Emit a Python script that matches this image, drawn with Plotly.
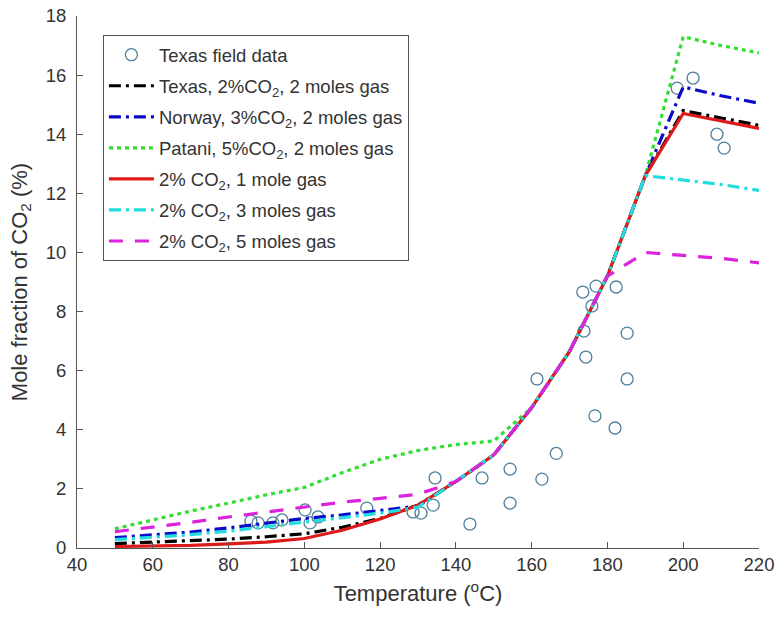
import plotly.graph_objects as go

# Texas field data
field_T = [85.9, 87.8, 91.7, 94.1, 100.2, 101.5, 103.6, 116.5, 128.7, 130.8, 134.0, 134.5,
           143.7, 146.9, 154.3, 154.3, 161.4, 162.7, 166.5, 173.5, 173.8, 174.3, 175.9,
           176.7, 177.0, 182.0, 182.3, 185.2, 185.2, 198.4, 202.6, 208.9, 210.8]
field_CO2 = [0.91, 0.85, 0.85, 0.95, 1.29, 0.85, 1.05, 1.35, 1.22, 1.18, 1.45, 2.37,
             0.81, 2.37, 2.67, 1.52, 5.72, 2.33, 3.2, 8.66, 7.34, 6.46, 8.19,
             4.47, 8.86, 4.06, 8.83, 7.27, 5.72, 15.56, 15.9, 14.0, 13.53]

# Model temperatures
temps = [50, 60, 70, 80, 90, 100, 110, 120, 130, 140, 150, 160, 170, 180, 190, 200, 210, 220]

texas_2co2_2mol = [0.15, 0.2, 0.25, 0.3, 0.38, 0.48, 0.7, 1.0, 1.45, 2.25, 3.15, 4.75, 6.65, 9.2, 12.6, 14.8, 14.55, 14.3]
norway_3co2_2mol = [0.35, 0.44, 0.54, 0.68, 0.85, 1.0, 1.12, 1.28, 1.42, 2.25, 3.15, 4.75, 6.65, 9.2, 12.6, 15.6, 15.3, 15.05]
patani_5co2_2mol = [0.65, 0.95, 1.25, 1.52, 1.8, 2.05, 2.55, 3.0, 3.3, 3.5, 3.62, 4.75, 6.65, 9.2, 12.6, 17.3, 17.0, 16.75]
co2_2_1mol = [0.05, 0.06, 0.09, 0.14, 0.2, 0.32, 0.6, 0.98, 1.45, 2.25, 3.15, 4.75, 6.65, 9.2, 12.6, 14.7, 14.45, 14.2]
co2_2_3mol = [0.28, 0.36, 0.45, 0.57, 0.72, 0.88, 1.02, 1.18, 1.38, 2.25, 3.15, 4.75, 6.65, 9.2, 12.6, 12.45, 12.3, 12.1]
co2_2_5mol = [0.55, 0.7, 0.87, 1.05, 1.22, 1.4, 1.55, 1.68, 1.82, 2.25, 3.15, 4.75, 6.65, 9.2, 10.0, 9.9, 9.8, 9.65]

x_ticks = [40, 60, 80, 100, 120, 140, 160, 180, 200, 220]
y_ticks = [0, 2, 4, 6, 8, 10, 12, 14, 16, 18]

fig = go.Figure()
fig.add_trace(go.Scatter(x=field_T, y=field_CO2, mode="markers", name="Texas field data",
                         legendgroup="g0",
                         marker=dict(symbol="circle-open", size=12, color="#4f7f9c",
                                     line=dict(width=1.3, color="#4f7f9c"))))

series = [
    ("Texas, 2%CO<sub>2</sub>, 2 moles gas", texas_2co2_2mol, "#000000", "12px,5px,3px,5px"),
    ("Norway, 3%CO<sub>2</sub>, 2 moles gas", norway_3co2_2mol, "#0a0ac8", "12px,5px,3px,5px"),
    ("Patani, 5%CO<sub>2</sub>, 2 moles gas", patani_5co2_2mol, "#33dd33", "4px,4px"),
    ("2% CO<sub>2</sub>, 1 mole gas", co2_2_1mol, "#dd1a1a", "solid"),
    ("2% CO<sub>2</sub>, 3 moles gas", co2_2_3mol, "#22dde0", "12px,5px,3px,5px"),
    ("2% CO<sub>2</sub>, 5 moles gas", co2_2_5mol, "#dd22dd", "14px,12px"),
]
for i, (name, vals, color, dash) in enumerate(series):
    fig.add_trace(go.Scatter(x=temps, y=vals, mode="lines", name=name,
                             legendgroup=f"g{i+1}",
                             line=dict(color=color, width=3.2, dash=dash)))

axis_common = dict(showline=True, linecolor="#555555", linewidth=1, ticks="inside",
                   ticklen=6, tickcolor="#555555", showgrid=False, zeroline=False,
                   automargin=False, ticklabeloverflow="allow",
                   tickfont=dict(family="Liberation Sans, Arial", size=18.5, color="#333333"))

fig.update_layout(
    width=775, height=624,
    margin=dict(l=77, r=16, t=16, b=76),
    paper_bgcolor="white", plot_bgcolor="white",
    font=dict(family="Liberation Sans, Arial", color="#333333"),
    xaxis=dict(range=[40, 220], tickvals=x_ticks,
               title=dict(text="Temperature (<sup>o</sup>C)", font=dict(size=22), standoff=11),
               **axis_common),
    yaxis=dict(range=[0, 18], tickvals=y_ticks, ticklabelstandoff=6,
               title=dict(text="Mole fraction of CO<sub>2</sub> (%)", font=dict(size=22), standoff=12),
               **axis_common),
    legend=dict(x=0.038, y=0.964, xanchor="left", yanchor="top",
                bgcolor="white", bordercolor="#555555", borderwidth=1,
                font=dict(size=18.5, color="#333333"), tracegroupgap=4,
                traceorder="grouped", itemwidth=45),
)

fig.write_html("out.html",
               config={"displayModeBar": False},
               post_script="document.body.style.margin='0';document.body.style.overflow='hidden';")
